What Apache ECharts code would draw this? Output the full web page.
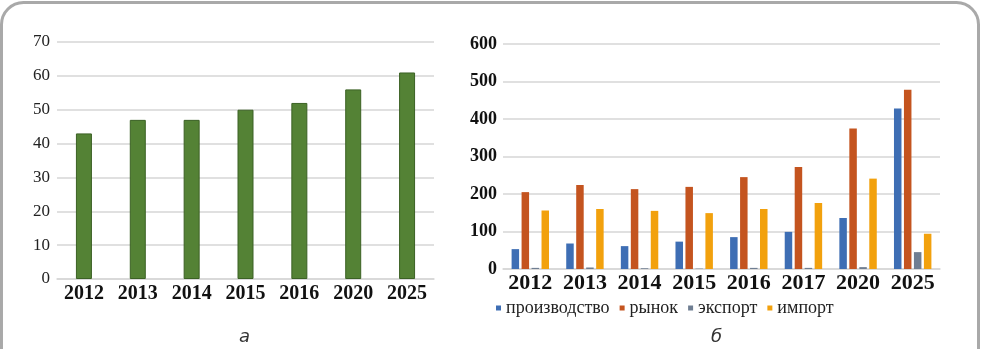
<!DOCTYPE html>
<html>
<head>
<meta charset="utf-8">
<script src="https://cdn.jsdelivr.net/npm/echarts@6/dist/echarts.min.js"></script>
<style>
html,body{margin:0;padding:0;background:#fff;}
#container1{width:981px;height:349px;}
</style>
</head>
<body>
<div id="container1"></div>
<script>
// панель а
var yearsA = ['2012','2013','2014','2015','2016','2020','2025'];
var valuesA = [43, 47, 47, 50, 52, 56, 61];

// панель б
var yearsB = ['2012','2013','2014','2015','2016','2017','2020','2025'];
var prod = [53, 68, 61, 73, 85, 99, 136, 428];
var market = [205, 224, 213, 219, 245, 272, 375, 478];
var exportV = [3, 4, 2, 1, 3, 3, 5, 45];
var importV = [156, 160, 155, 149, 160, 176, 241, 94];
var legendNames = ['производство', 'рынок', 'экспорт', 'импорт'];

var serif = '"Liberation Serif", "Times New Roman", serif';

var dom = document.getElementById("container1");
var myChart = echarts.init(dom);

function barB(name, data, color) {
	return {
		name: name,
		type: 'bar',
		xAxisIndex: 1,
		yAxisIndex: 1,
		data: data,
		barWidth: 7.5,
		barGap: '33%',
		itemStyle: { color: color }
	};
}

var option = {
	animation: false,
	backgroundColor: '#fff',
	textStyle: { fontFamily: serif },
	graphic: [
		{
			// рамка
			type: 'rect',
			shape: { x: 1.5, y: 2.5, width: 977, height: 400, r: 22 },
			style: { fill: null, stroke: '#a9a9a9', lineWidth: 3 },
			silent: true
		},
		{
			type: 'text', left: 239, top: 328,
			style: { text: 'а', font: 'italic 18px "DejaVu Sans", sans-serif', fill: '#333' }
		},
		{
			type: 'text', left: 711, top: 328,
			style: { text: 'б', font: 'italic 18px "DejaVu Sans", sans-serif', fill: '#333' }
		}
	],
	grid: [
		{ left: 57, top: 42, width: 377, height: 237 },
		{ left: 503, top: 44, width: 437, height: 225 }
	],
	legend: {
		left: 491,
		top: 294,
		icon: 'rect',
		itemWidth: 5,
		itemHeight: 5,
		itemGap: 10,
		data: legendNames,
		textStyle: { fontFamily: serif, fontSize: 18, color: '#222' }
	},
	xAxis: [
		{
			type: 'category',
			gridIndex: 0,
			data: yearsA,
			axisTick: { show: false },
			axisLine: { lineStyle: { color: '#d6d6d6', width: 1.5 } },
			axisLabel: { fontFamily: serif, fontWeight: 'bold', fontSize: 20, color: '#111', margin: 5 }
		},
		{
			type: 'category',
			gridIndex: 1,
			data: yearsB,
			axisTick: { show: false },
			axisLine: { lineStyle: { color: '#d6d6d6', width: 1.5 } },
			axisLabel: { fontFamily: serif, fontWeight: 'bold', fontSize: 22, color: '#111', margin: 3, interval: 0 }
		}
	],
	yAxis: [
		{
			type: 'value',
			gridIndex: 0,
			min: 0,
			max: 70,
			interval: 10,
			axisLine: { show: false },
			axisTick: { show: false },
			splitLine: { lineStyle: { color: '#d6d6d6', width: 1.5 } },
			axisLabel: { fontFamily: serif, fontSize: 17, color: '#222', margin: 7 }
		},
		{
			type: 'value',
			gridIndex: 1,
			min: 0,
			max: 600,
			interval: 100,
			axisLine: { show: false },
			axisTick: { show: false },
			splitLine: { lineStyle: { color: '#d6d6d6', width: 1.5 } },
			axisLabel: { fontFamily: serif, fontWeight: 'bold', fontSize: 18, color: '#111', margin: 6 }
		}
	],
	series: [
		{
			type: 'bar',
			xAxisIndex: 0,
			yAxisIndex: 0,
			data: valuesA,
			barWidth: 16,
			itemStyle: { color: '#548235', borderColor: '#3b6124', borderWidth: 1 }
		},
		barB(legendNames[0], prod, '#3e6eb4'),
		barB(legendNames[1], market, '#c4541f'),
		barB(legendNames[2], exportV, '#6f7e92'),
		barB(legendNames[3], importV, '#f2a10d')
	]
};

myChart.setOption(option);
</script>
</body>
</html>
